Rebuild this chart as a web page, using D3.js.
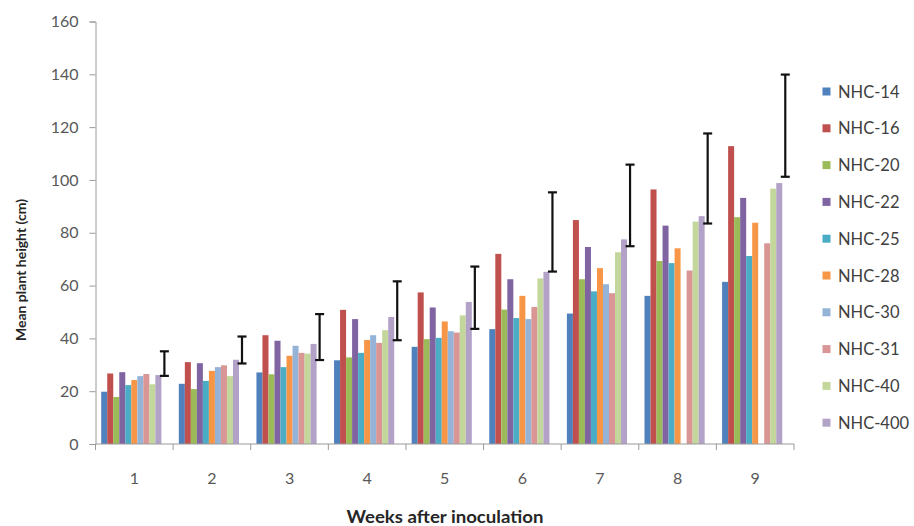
<!DOCTYPE html>
<html>
<head>
<meta charset="utf-8">
<script src="https://cdn.jsdelivr.net/npm/d3@7"></script>
<style>
html,body{margin:0;padding:0;background:#fff;}
svg{display:block;font-family:Lato,"Open Sans",sans-serif;}
</style>
</head>
<body>
<svg id="chart" width="914" height="526"></svg>
<script>
const weeks = ["1","2","3","4","5","6","7","8","9"];
const seriesNames = ["NHC-14","NHC-16","NHC-20","NHC-22","NHC-25","NHC-28","NHC-30","NHC-31","NHC-40","NHC-400"];
const colors = ["#4F81BD","#C0504D","#9BBB59","#8064A2","#4BACC6","#F79646","#95B3D7","#D99694","#C3D69B","#B3A2C7"];
const nhc14  = [19.8, 22.8, 27.1, 31.7, 36.8, 43.5, 49.4, 56.1, 61.4];
const nhc16  = [26.7, 31.0, 41.2, 50.8, 57.4, 72.0, 84.8, 96.4, 112.8];
const nhc20  = [17.8, 20.8, 26.4, 32.8, 39.7, 50.9, 62.4, 69.3, 85.9];
const nhc22  = [27.2, 30.6, 39.1, 47.3, 51.7, 62.4, 74.6, 82.7, 93.2];
const nhc25  = [22.3, 23.9, 29.1, 34.5, 40.2, 47.7, 57.8, 68.5, 71.2];
const nhc28  = [24.2, 27.7, 33.4, 39.4, 46.4, 56.1, 66.6, 74.1, 83.8];
const nhc30  = [25.7, 29.1, 37.2, 41.2, 42.7, 47.3, 60.5, null, null];
const nhc31  = [26.5, 29.8, 34.5, 38.3, 42.2, 51.9, 57.1, 65.7, 76.0];
const nhc40  = [22.6, 25.7, 34.2, 43.1, 48.7, 62.7, 72.6, 84.2, 96.7];
const nhc400 = [26.1, 31.9, 37.9, 48.1, 53.8, 65.2, 77.5, 86.3, 98.8];
const errLow  = [25.8, 30.5, 31.8, 39.3, 43.6, 65.3, 74.9, 83.5, 101.2];
const errHigh = [35.1, 40.7, 49.2, 61.6, 67.2, 95.3, 105.8, 117.6, 139.9];
const yTicks = [0,20,40,60,80,100,120,140,160];

const values = [nhc14,nhc16,nhc20,nhc22,nhc25,nhc28,nhc30,nhc31,nhc40,nhc400];

const svg = d3.select("#chart");
const plotLeft = 95.5, plotRight = 794, plotTop = 21.5, plotBottom = 444;

const x0 = d3.scaleBand().domain(weeks).range([plotLeft, plotRight]).padding(0);
const slots = d3.range(11);
const x1 = d3.scaleBand().domain(slots).range([0, x0.bandwidth()]).paddingInner(0).paddingOuter(0.95);
const y = d3.scaleLinear().domain([0,160]).range([plotBottom, plotTop]);

// bars
weeks.forEach((w, wi) => {
  const g = svg.append("g").attr("transform", `translate(${x0(w)},0)`);
  values.forEach((arr, si) => {
    const v = arr[wi];
    if (v == null) return;
    g.append("rect")
      .attr("x", x1(si))
      .attr("width", x1.bandwidth())
      .attr("y", y(v))
      .attr("height", y(0) - y(v))
      .attr("fill", colors[si]);
  });
  // error bar (11th invisible slot)
  const cx = x1(10) + x1.bandwidth()/2;
  const lo = y(errLow[wi]), hi = y(errHigh[wi]);
  g.append("line").attr("x1",cx).attr("x2",cx).attr("y1",lo).attr("y2",hi)
    .attr("stroke","#111").attr("stroke-width",2.2);
  [lo,hi].forEach(yy => g.append("line").attr("x1",cx-4.5).attr("x2",cx+4.5).attr("y1",yy).attr("y2",yy)
    .attr("stroke","#111").attr("stroke-width",2.2));
});

// y axis
const yAxis = d3.axisLeft(y).tickValues(yTicks).tickSize(6).tickPadding(11);
const ya = svg.append("g").attr("transform",`translate(${plotLeft},0)`).call(yAxis);
ya.select(".domain").attr("stroke","#9a9a9a");
ya.selectAll(".tick line").attr("stroke","#9a9a9a");
ya.selectAll("text").attr("fill","#595959").style("font-size","16px").style("font-family","Lato, 'Open Sans', sans-serif");

// x axis
const xa = svg.append("g").attr("transform",`translate(0,${plotBottom})`);
xa.append("line").attr("x1",plotLeft).attr("x2",plotRight).attr("y1",0).attr("y2",0).attr("stroke","#9a9a9a");
const boundaries = weeks.map(w => x0(w)).concat([plotRight]);
xa.selectAll(".xt").data(boundaries).enter().append("line")
  .attr("x1",d=>d).attr("x2",d=>d).attr("y1",0).attr("y2",6).attr("stroke","#9a9a9a");
xa.selectAll(".xl").data(weeks).enter().append("text")
  .attr("x", d => x0(d) + x0.bandwidth()/2)
  .attr("y", 40)
  .attr("text-anchor","middle")
  .attr("fill","#595959")
  .style("font-size","16px")
  .text(d => d);

// axis titles
svg.append("text").attr("x", 445).attr("y", 523).attr("text-anchor","middle")
  .style("font-size","16.5px").style("font-weight","bold").attr("fill","#262626")
  .attr("textLength", 197).attr("lengthAdjust","spacingAndGlyphs")
  .text("Weeks after inoculation");
svg.append("text").attr("transform","translate(26,270) rotate(-90)").attr("text-anchor","middle")
  .style("font-size","14px").style("font-weight","bold").attr("fill","#262626")
  .text("Mean plant height (cm)");

// legend
const leg = svg.append("g");
seriesNames.forEach((n, i) => {
  const yy = 91.5 + i * 36.8;
  leg.append("rect").attr("x", 822.5).attr("y", yy - 4).attr("width", 8).attr("height", 8).attr("fill", colors[i]);
  leg.append("text").attr("x", 838).attr("y", yy + 6).attr("fill","#404040")
    .style("font-size","16.5px").text(n);
});
</script>
</body>
</html>
